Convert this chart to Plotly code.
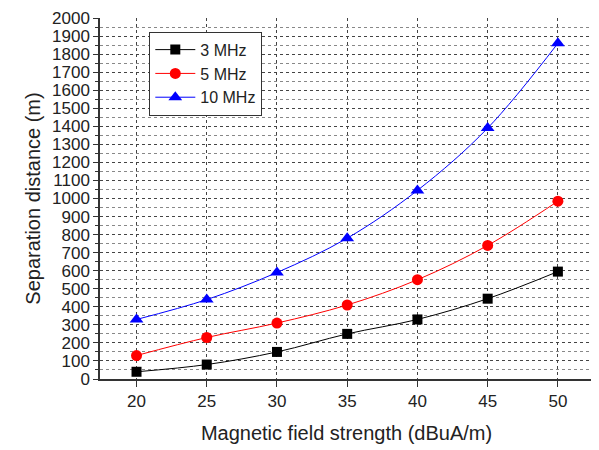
import plotly.graph_objects as go

field_strength = [20, 25, 30, 35, 40, 45, 50]
dist_3mhz = [40, 80, 150, 250, 330, 445, 595]
dist_5mhz = [130, 230, 310, 410, 550, 740, 985]
dist_10mhz = [330, 440, 590, 780, 1045, 1390, 1860]

series = [
    ("3 MHz", dist_3mhz, "black", "square", 10),
    ("5 MHz", dist_5mhz, "red", "circle", 11),
    ("10 MHz", dist_10mhz, "blue", "triangle-up", 12),
]

fig = go.Figure()
for name, vals, col, sym, sz in series:
    fig.add_trace(go.Scatter(
        x=field_strength, y=vals, name=name, mode="lines+markers",
        line=dict(color=col, width=1, shape="spline"),
        marker=dict(color=col, symbol=sym, size=sz),
    ))

font = "Liberation Sans, Arial, sans-serif"
fig.update_layout(
    width=591, height=442,
    margin=dict(l=92, r=6, t=10, b=71),
    plot_bgcolor="white", paper_bgcolor="white",
    font=dict(family=font, size=17, color="#222"),
    showlegend=True,
    legend=dict(x=0.1, y=0.962, xanchor="left", yanchor="top",
                bgcolor="white", bordercolor="#333", borderwidth=1,
                font=dict(size=16), traceorder="normal",
                tracegroupgap=0, itemwidth=40),
    xaxis=dict(
        range=[17.4, 52.5], tickvals=[20, 25, 30, 35, 40, 45, 50],
        automargin=False,
        showline=True, linecolor="#333", linewidth=1.5,
        ticks="outside", ticklen=6, tickcolor="#333",
        showgrid=True, gridcolor="#444", griddash="dot", gridwidth=1,
        zeroline=False,
        title=dict(text="Magnetic field strength (dBuA/m)", font=dict(size=20), standoff=16),
    ),
    yaxis=dict(
        range=[0, 2000], dtick=100,
        automargin=False,
        showline=True, linecolor="#333", linewidth=1.5,
        ticks="outside", ticklen=5, tickcolor="#333",
        showgrid=True, gridcolor="#444", griddash="dot", gridwidth=1,
        minor=dict(dtick=50, showgrid=True, gridcolor="#888", griddash="dot",
                   ticks="outside", ticklen=3, tickcolor="#333"),
        zeroline=False,
        title=dict(text="Separation distance (m)", font=dict(size=20), standoff=6),
    ),
)

fig.write_html("out.html")
